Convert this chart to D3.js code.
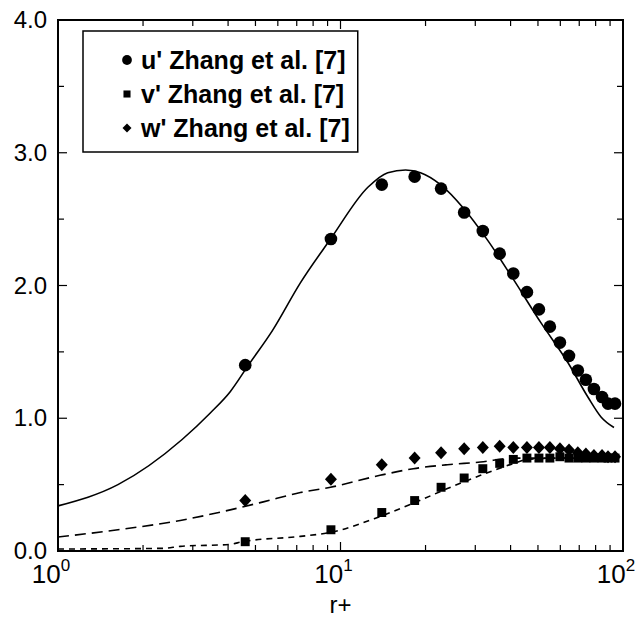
<!DOCTYPE html>
<html>
<head>
<meta charset="utf-8">
<script src="https://cdn.jsdelivr.net/npm/d3@7"></script>
<style>
  body { margin: 0; background: #fff; }
  text { font-family: "Liberation Sans", Arial, sans-serif; fill: #000; }
</style>
</head>
<body>
<div id="chart"></div>
<script>
// measured points (Zhang et al. [7])
var r_pts = [4.6, 9.25, 14.0, 18.3, 22.7, 27.4, 31.9, 36.6, 40.9, 45.7, 50.4, 55.1, 59.8, 64.4, 69.2, 73.9, 78.9, 84.3, 88.5, 93.7];
var u_pts = [1.40, 2.35, 2.76, 2.82, 2.73, 2.55, 2.41, 2.24, 2.09, 1.95, 1.82, 1.69, 1.57, 1.47, 1.36, 1.29, 1.22, 1.16, 1.11, 1.11];
var v_pts = [0.07, 0.16, 0.29, 0.38, 0.48, 0.55, 0.62, 0.66, 0.69, 0.70, 0.70, 0.70, 0.71, 0.70, 0.70, 0.70, 0.70, 0.70, 0.70, 0.70];
var w_pts = [0.38, 0.54, 0.65, 0.70, 0.74, 0.77, 0.78, 0.79, 0.78, 0.78, 0.78, 0.78, 0.77, 0.76, 0.74, 0.73, 0.72, 0.72, 0.71, 0.71];

// model curves
var r_u = [1, 1.63, 2.75, 3.46, 4.07, 4.72, 5.74, 7.21, 9.22, 12.5, 14.7, 17.0, 19.2, 22.6, 27.3, 33.2, 41.1, 51.2, 63.8, 75.1, 83.6, 92.9];
var u_line = [0.34, 0.50, 0.84, 1.04, 1.20, 1.40, 1.66, 2.02, 2.35, 2.74, 2.85, 2.87, 2.85, 2.76, 2.58, 2.34, 2.04, 1.72, 1.42, 1.16, 1.01, 0.93];
var r_w = [1, 1.63, 2.71, 4.07, 5.33, 7.21, 9.22, 13.8, 18.1, 23.9, 31.3, 41.1, 46, 60, 92.9];
var w_line = [0.105, 0.16, 0.23, 0.31, 0.37, 0.44, 0.48, 0.57, 0.62, 0.65, 0.67, 0.70, 0.70, 0.70, 0.70];
var r_v = [1, 2.36, 2.71, 4.07, 4.49, 7.21, 9.22, 13.8, 18.1, 23.9, 31.3, 41.1, 45.9, 60, 92.9];
var v_line = [0.015, 0.02, 0.035, 0.05, 0.07, 0.11, 0.14, 0.26, 0.36, 0.47, 0.57, 0.66, 0.69, 0.70, 0.70];

var y_ticks = [0, 1, 2, 3, 4];
var x_ticks = [1, 10, 100];
var legend_labels = ["u' Zhang et al. [7]", "v' Zhang et al. [7]", "w' Zhang et al. [7]"];

var width = 637, height = 623;
var pad_left = 58, pad_right = 623, pad_top = 20, pad_bottom = 551;

var svg = d3.select('#chart').append('svg')
    .attr('width', width)
    .attr('height', height);

var x = d3.scaleLog().domain([1, 100]).range([pad_left, pad_right]);
var y = d3.scaleLinear().domain([0, 4]).range([pad_bottom, pad_top]);

// ticks inward on all four sides
var minor_x = [];
[1, 10].forEach(function(d) {
    for (var k = 2; k < 10; ++k) minor_x.push(d * k);
});
var minor_y = [0.5, 1.5, 2.5, 3.5];

var ticks = svg.append('g').attr('stroke', '#000').attr('stroke-width', 1.2);
x_ticks.concat(minor_x).forEach(function(d) {
    var len = x_ticks.includes(d) ? 9 : 6;
    ticks.append('line').attr('x1', x(d)).attr('x2', x(d)).attr('y1', pad_bottom).attr('y2', pad_bottom - len);
    ticks.append('line').attr('x1', x(d)).attr('x2', x(d)).attr('y1', pad_top).attr('y2', pad_top + len);
});
y_ticks.concat(minor_y).forEach(function(d) {
    var len = y_ticks.includes(d) ? 9 : 6;
    ticks.append('line').attr('x1', pad_left).attr('x2', pad_left + len).attr('y1', y(d)).attr('y2', y(d));
    ticks.append('line').attr('x1', pad_right).attr('x2', pad_right - len).attr('y1', y(d)).attr('y2', y(d));
});

// frame
svg.append('rect')
    .attr('x', pad_left).attr('y', pad_top)
    .attr('width', pad_right - pad_left).attr('height', pad_bottom - pad_top)
    .attr('fill', 'none').attr('stroke', '#000').attr('stroke-width', 2);

// y labels
svg.selectAll('.ylab')
    .data(y_ticks)
    .enter()
    .append('text')
    .attr('class', 'ylab')
    .attr('x', pad_left - 11)
    .attr('y', function(d) { return y(d) + 8; })
    .style('text-anchor', 'end')
    .style('font-size', '24px')
    .text(function(d) { return d.toFixed(1); });

// x labels 10^n
var xl = svg.selectAll('.xlab')
    .data(x_ticks)
    .enter()
    .append('text')
    .attr('class', 'xlab')
    .attr('x', function(d) { return x(d) - 7; })
    .attr('y', pad_bottom + 32)
    .style('text-anchor', 'middle')
    .style('font-size', '26px');
xl.append('tspan').text('10');
xl.append('tspan')
    .attr('dy', -12)
    .style('font-size', '17px')
    .text(function(d) { return Math.round(Math.log10(d)); });

svg.append('text')
    .attr('x', x(10))
    .attr('y', 613)
    .style('text-anchor', 'middle')
    .style('font-size', '24px')
    .text('r+');

// model lines
var line = d3.line().curve(d3.curveMonotoneX);
function draw_line(rs, vs, dash) {
    var pts = rs.map(function(d, i) { return [x(d), y(vs[i])]; });
    svg.append('path')
        .attr('d', line(pts))
        .attr('fill', 'none')
        .attr('stroke', '#000')
        .attr('stroke-width', 1.6)
        .attr('stroke-dasharray', dash);
}
draw_line(r_u, u_line, null);
draw_line(r_w, w_line, '11,6');
draw_line(r_v, v_line, '6,5');

// wide diamond, like the scanned marker
function diamond(hw, hh) {
    return {
        draw: function(ctx) {
            ctx.moveTo(0, -hh);
            ctx.lineTo(hw, 0);
            ctx.lineTo(0, hh);
            ctx.lineTo(-hw, 0);
            ctx.closePath();
        }
    };
}

// markers
var sym_circle = d3.symbol().type(d3.symbolCircle).size(125);
var sym_square = d3.symbol().type(d3.symbolSquare).size(80);
var sym_diamond = d3.symbol().type(diamond(6, 6.5));

function draw_points(vals, sym) {
    svg.append('g').selectAll('path')
        .data(vals)
        .enter()
        .append('path')
        .attr('d', sym)
        .attr('transform', function(d, i) { return 'translate(' + x(r_pts[i]) + ',' + y(d) + ')'; })
        .attr('fill', '#000');
}
draw_points(u_pts, sym_circle);
draw_points(v_pts, sym_square);
draw_points(w_pts, sym_diamond);

// legend
var lg = svg.append('g');
var lbox = lg.append('rect')
    .attr('x', 83).attr('y', 31)
    .attr('height', 121)
    .attr('fill', '#fff').attr('stroke', '#000').attr('stroke-width', 1.5);

var lsyms = [d3.symbol().type(d3.symbolCircle).size(75),
             d3.symbol().type(d3.symbolSquare).size(50),
             d3.symbol().type(diamond(4.5, 4.5))];
var max_end = 0;
legend_labels.forEach(function(t, i) {
    var cy = 60 + i * 34;
    lg.append('path')
        .attr('d', lsyms[i])
        .attr('transform', 'translate(127,' + cy + ')')
        .attr('fill', '#000');
    var tx = lg.append('text')
        .attr('x', 141)
        .attr('y', cy + 9)
        .style('font-size', '25px')
        .style('font-weight', 'bold')
        .text(t);
    max_end = Math.max(max_end, 141 + tx.node().getComputedTextLength());
});
lbox.attr('width', max_end + 8 - 83);
</script>
</body>
</html>
